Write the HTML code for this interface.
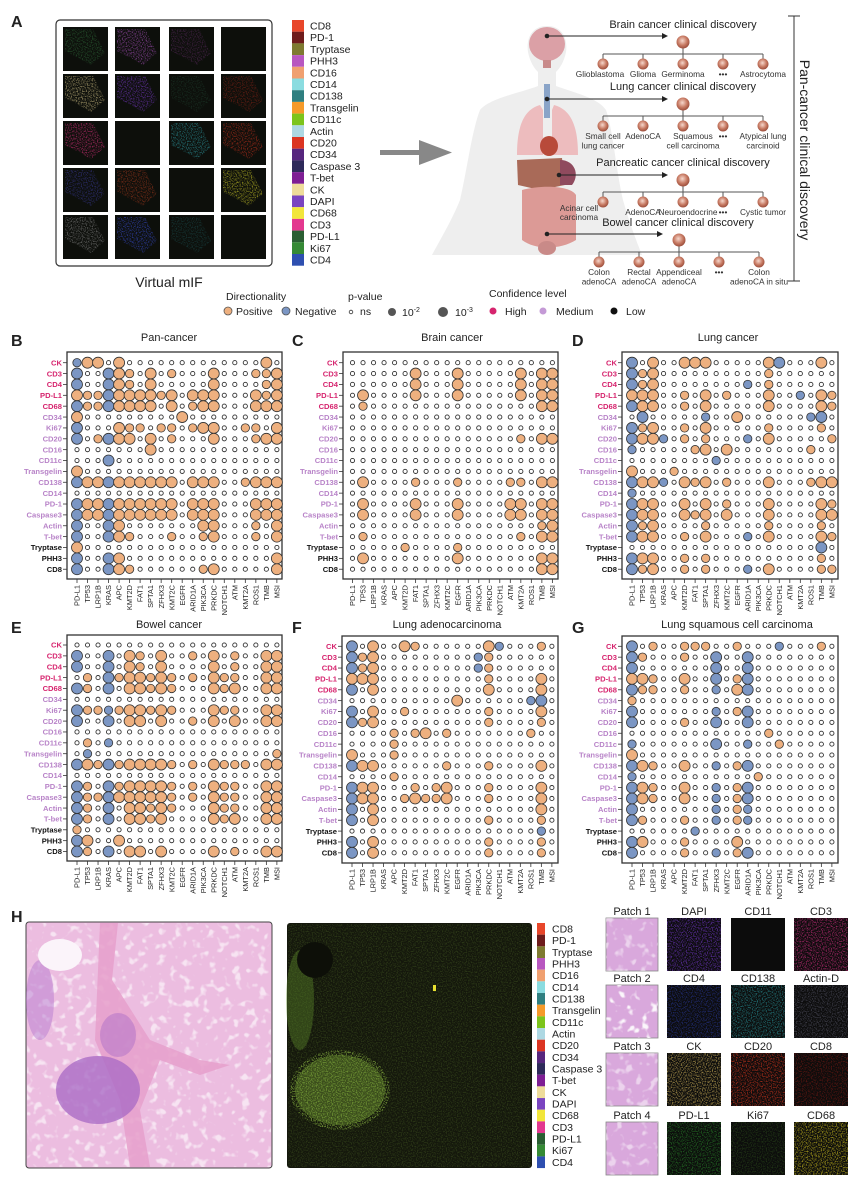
<!DOCTYPE html>
<html><head><meta charset="utf-8"><style>
html,body{margin:0;padding:0;background:#fff;}
svg{display:block;font-family:"Liberation Sans",Arial,sans-serif;}
</style></head><body>
<svg id="s" width="857" height="1188" viewBox="0 0 857 1188" xmlns="http://www.w3.org/2000/svg">
<defs>
<filter id="spk" x="0" y="0" width="1" height="1">
<feTurbulence type="fractalNoise" baseFrequency="0.8" numOctaves="1" seed="3" result="t"/>
<feColorMatrix in="t" type="matrix" values="0 0 0 0 0  0 0 0 0 0  0 0 0 0 0  0 0 0 4 -1.8" result="a"/>
<feComposite in="SourceGraphic" in2="a" operator="in"/>
</filter>
<filter id="wsp" x="0" y="0" width="1" height="1">
<feTurbulence type="fractalNoise" baseFrequency="0.12" numOctaves="2" seed="7" result="t"/>
<feColorMatrix in="t" type="matrix" values="0 0 0 0 1  0 0 0 0 1  0 0 0 0 1  0 0 0 6 -3.4"/>
</filter>
<radialGradient id="nd" cx="0.45" cy="0.4" r="0.6"><stop offset="0" stop-color="#f6d7cc"/><stop offset="0.6" stop-color="#c77a63"/><stop offset="1" stop-color="#9c4e3c"/></radialGradient>
</defs>
<g id="g"></g>
</svg>
<script>
var out=[];
function a(s){out.push(s);}
function T(x,y,t,o){o=o||{};a('<text x="'+x+'" y="'+y+'" font-size="'+(o.fs||11)+'"'+(o.fw?' font-weight="'+o.fw+'"':'')+' fill="'+(o.c||'#222')+'"'+(o.an?' text-anchor="'+o.an+'"':'')+(o.tr?' transform="'+o.tr+'"':'')+'>'+t+'</text>');}
// ---------- Panel A ----------
T(11,27,'A',{fs:16,fw:'bold'});
a('<rect x="56" y="20" width="216" height="246" rx="4" fill="#fff" stroke="#333" stroke-width="1.2"/>');
var tx=[63,115,169,221], ty=[27,74,121,168,215];
var tc=[['#2f6b3a','#b254c8','#5a2a5e',null],['#d8c78a','#7d3ad0','#1d3a2a','#8a2418'],['#e0307f',null,'#2fa0a8','#c8321e'],['#3a3a9a','#a83a1e',null,'#d8d42a'],['#8a8a8a','#3a4ed8','#1a4a4a',null]];
for(var r=0;r<5;r++)for(var c=0;c<4;c++){var x=tx[c],y=ty[r];a('<rect x="'+x+'" y="'+y+'" width="45" height="44" fill="#0d0f0b"/>');var col=tc[r][c];if(col){a('<path d="M'+(x+2)+' '+(y+2)+' L'+(x+30)+' '+(y+2)+' L'+(x+42)+' '+(y+26)+' L'+(x+28)+' '+(y+38)+' L'+(x+14)+' '+(y+30)+' L'+(x+2)+' '+(y+24)+'Z" fill="'+col+'" opacity="0.55" filter="url(#spk)"/>');}}
var lg=[['CD8','#e8462a'],['PD-1','#6e1c1c'],['Tryptase','#7e7a30'],['PHH3','#b857c0'],['CD16','#f0a070'],['CD14','#8adce0'],['CD138','#2f7f80'],['Transgelin','#f59a2a'],['CD11c','#7cc41c'],['Actin','#add8e3'],['CD20','#dc3522'],['CD34','#57267e'],['Caspase 3','#2e2a5a'],['T-bet','#7e1e94'],['CK','#eedc9a'],['DAPI','#7a44c0'],['CD68','#f2e63a'],['CD3','#e3388f'],['PD-L1','#2a5e32'],['Ki67','#358a35'],['CD4','#2e4fb0']];
for(var i=0;i<21;i++){var y=20+i*11.7;a('<rect x="292" y="'+y+'" width="12" height="11.7" fill="'+lg[i][1]+'"/>');T(310,y+9.5,lg[i][0],{fs:10.5});}
T(169,287,'Virtual mIF',{fs:14,an:'middle'});
a('<rect x="380" y="150" width="40" height="5" fill="#888"/><path d="M419 140 L452 152.5 L419 165Z" fill="#888"/>');
T(226,300,'Directionality',{fs:10.5});
a('<circle cx="228" cy="311" r="4" fill="#eeb07f" stroke="#555" stroke-width="0.8"/>');T(236,315,'Positive',{fs:10.5});
a('<circle cx="286" cy="311" r="4" fill="#7b96c4" stroke="#555" stroke-width="0.8"/>');T(295,315,'Negative',{fs:10.5});
T(348,300,'p-value',{fs:10.5});
a('<circle cx="351" cy="312" r="1.8" fill="none" stroke="#333" stroke-width="0.8"/>');T(360,315,'ns',{fs:10.5});
a('<circle cx="392" cy="312" r="4" fill="#555"/>');T(402,316,'10<tspan font-size="7" dy="-4">-2</tspan>',{fs:10.5});
a('<circle cx="443" cy="312" r="5" fill="#555"/>');T(455,316,'10<tspan font-size="7" dy="-4">-3</tspan>',{fs:10.5});
T(489,297,'Confidence level',{fs:10.5});
a('<circle cx="493" cy="311" r="3.5" fill="#d6246e"/>');T(505,315,'High',{fs:10.5});
a('<circle cx="543" cy="311" r="3.5" fill="#c49ad6"/>');T(556,315,'Medium',{fs:10.5});
a('<circle cx="614" cy="311" r="3.5" fill="#111"/>');T(626,315,'Low',{fs:10.5});
// body silhouette
a('<path d="M547 26 C562 26 568 38 566 52 C564 62 560 68 556 72 L556 86 C575 93 598 98 606 110 C613 130 616 170 623 200 C630 225 638 245 642 255 L432 255 C440 240 452 220 460 200 C467 170 472 130 480 110 C490 98 520 93 538 86 L538 72 C534 68 530 62 528 52 C526 38 532 26 547 26Z" fill="#eeeeee"/>');
a('<ellipse cx="547" cy="44" rx="18" ry="17" fill="#dba0a6"/><rect x="543" y="60" width="8" height="8" fill="#c88a8a"/>');
a('<rect x="544" y="84" width="6" height="34" fill="#8aa4c8"/>');
a('<path d="M540 105 C522 110 517 130 517 155 L543 155 L543 110Z M554 105 C573 110 578 130 578 155 L552 155 L552 110Z" fill="#edbcbe"/>');
a('<ellipse cx="549" cy="146" rx="9" ry="10" fill="#b84a3a"/>');
a('<path d="M517 160 L562 158 L565 185 L540 190 L518 185Z" fill="#a96a58"/><path d="M560 160 C575 160 580 175 572 185 L560 185Z" fill="#8f4a5e"/>');
a('<path d="M522 190 C540 185 570 185 576 195 L576 240 C560 250 535 250 522 240Z" fill="#dc9a96"/>');
a('<ellipse cx="547" cy="248" rx="9" ry="7" fill="#c98a88"/>');
function tree(cy,title,tcx,rootx,x0,labels,arrFrom,arrTo){
 T(tcx,cy,title,{fs:11,an:'middle'});
 var ry=cy+14,ly=cy+26,chy=cy+36;
 a('<line x1="'+rootx+'" y1="'+ry+'" x2="'+rootx+'" y2="'+ly+'" stroke="#555"/>');
 a('<line x1="'+x0+'" y1="'+ly+'" x2="'+(x0+160)+'" y2="'+ly+'" stroke="#555"/>');
 a('<circle cx="'+rootx+'" cy="'+ry+'" r="6.5" fill="url(#nd)"/>');
 for(var i=0;i<5;i++){var x=x0+i*40;a('<line x1="'+x+'" y1="'+ly+'" x2="'+x+'" y2="'+chy+'" stroke="#555"/>');a('<circle cx="'+x+'" cy="'+chy+'" r="5.5" fill="url(#nd)"/>');
  var L=labels[i];for(var k=0;k<L.length;k++)T(x+(L[k][1]||0),chy+13+k*9.5,L[k][0],{fs:8.3,an:'middle',c:'#333'});}
 a('<circle cx="'+arrFrom[0]+'" cy="'+arrFrom[1]+'" r="2.3" fill="#222"/><line x1="'+arrFrom[0]+'" y1="'+arrFrom[1]+'" x2="'+(arrTo-4)+'" y2="'+arrFrom[1]+'" stroke="#222" stroke-width="0.9"/><path d="M'+arrTo+' '+arrFrom[1]+' l-6 -3 v6z" fill="#222"/>');
}
tree(28,'Brain cancer clinical discovery',683,683,603,[[['Glioblastoma',-3]],[['Glioma']],[['Germinoma']],[['•••']],[['Astrocytoma']]],[547,36],668);
tree(90,'Lung cancer clinical discovery',683,683,603,[[['Small cell'],['lung cancer']],[['AdenoCA']],[['Squamous',10],['cell carcinoma',10]],[['•••']],[['Atypical lung'],['carcinoid']]],[547,99],668);
tree(166,'Pancreatic cancer clinical discovery',683,683,603,[[['',0]],[['AdenoCA']],[['Neuroendocrine',5]],[['•••']],[['Cystic tumor']]],[559,175],668);
T(579,211,'Acinar cell',{fs:8.3,an:'middle',c:'#333'});T(579,220,'carcinoma',{fs:8.3,an:'middle',c:'#333'});
tree(226,'Bowel cancer clinical discovery',678,679,599,[[['Colon'],['adenoCA']],[['Rectal'],['adenoCA']],[['Appendiceal'],['adenoCA']],[['•••']],[['Colon'],['adenoCA in situ']]],[547,234],663);
a('<line x1="794" y1="16" x2="794" y2="281" stroke="#333"/><line x1="788" y1="16" x2="800" y2="16" stroke="#333"/><line x1="788" y1="281" x2="800" y2="281" stroke="#333"/>');
T(800,150,'Pan-cancer clinical discovery',{fs:14,an:'middle',tr:'rotate(90 800 150)'});
// ---------- dot plots ----------
var rows=['CK','CD3','CD4','PD-L1','CD68','CD34','Ki67','CD20','CD16','CD11c','Transgelin','CD138','CD14','PD-1','Caspase3','Actin','T-bet','Tryptase','PHH3','CD8'];
var cols=['PD-L1','TP53','LRP1B','KRAS','APC','KMT2D','FAT1','SPTA1','ZFHX3','KMT2C','EGFR','ARID1A','PIK3CA','PRKDC','NOTCH1','ATM','KMT2A','ROS1','TMB','MSI'];
function rc(i){return i<5?'#d6246e':(i<17?'#b883c8':'#111');}
function plot(L,lx,title,tcx,ty,bx,by,bw,bh,cx0,ry0,data){
 T(lx,ty+5,L,{fs:16,fw:'bold'});
 T(tcx,ty,title,{fs:11,an:'middle'});
 a('<rect x="'+bx+'" y="'+by+'" width="'+bw+'" height="'+bh+'" fill="#fff" stroke="#333" stroke-width="1.3"/>');
 var dx=10.52,dy=10.87;
 for(var r=0;r<20;r++){var y=ry0+r*dy;a('<line x1="'+(bx-4)+'" y1="'+y+'" x2="'+bx+'" y2="'+y+'" stroke="#333" stroke-width="0.8"/>');T(bx-5,y+2.7,rows[r],{fs:7.6,fw:'bold',an:'end',c:rc(r)});
  var s=(data[r]||'')+'....................';
  for(var c=0;c<20;c++){var x=cx0+c*dx,ch=s[c];
   if(ch=='.')a('<circle cx="'+x+'" cy="'+y+'" r="2.1" fill="#fff" stroke="#333" stroke-width="0.9"/>');
   else{var big=(ch=='P'||ch=='N');var neg=(ch=='N'||ch=='n');a('<circle cx="'+x+'" cy="'+y+'" r="'+(big?5.5:4.2)+'" fill="'+(neg?'#7b96c4':'#eeb07f')+'" stroke="#333" stroke-width="0.8"/>');}}}
 for(var c=0;c<20;c++){var x=cx0+c*dx,yb=by+bh;a('<line x1="'+x+'" y1="'+yb+'" x2="'+x+'" y2="'+(yb+4)+'" stroke="#333" stroke-width="0.8"/>');T(x+2.6,yb+6,cols[c],{fs:7.4,an:'end',tr:'rotate(-90 '+(x+2.6)+' '+(yb+6)+')'});}
}
var B=["nPP.P.............P.","N..NPp.P.p...P...ppP","N..NPp.P.....P....pP","PppNPPPPpP.PPP...PpP","NppNPPPP.P.pPP...PPP","P.........P.........","N...Ppp.pp.pPP..pp.P","N.pNPP.P.p...P...pPP",".......P............","...N................","P...................","NPPNPPPPPP.PPP..pPPP","....................","NPPNPPPPPP.PPP...PPP","NPPNPPPPPP.PPP...PPP","N..NP.......PP...p.P","N..NPp...p..pP...p.P","P...................","N..NP..............P","N..NPp......pP.....P"];
var C=["","......P...P.....P.PP","......P...P.....P.PP",".P....P...P.....P.PP",".p................PP","","","................p.PP","","","",".P....p...p....pp.PP","",".P....P...P....PP.PP",".P....P...P....PP.PP","..................pP",".p..............p.PP",".....p....p.........",".P........P.......PP","..................PP"];
var D=["N.P..PPP.....PN...P.","NpP..........p......","NpP........n.p......","PPP..p.P.p...P..n.Pp","NPP..p.P.....P....Pp",".N.....n..P......nN.","NpP..p.P.....p....p.","NPPn.p.p...n.P.....p","n.....pP.P.......p..","........n...........","P...p...............","NPPn.PpP.p...P...pPP","n...................","NPP..P.P.p...P....Pp","NPP..PpP.P...P....PP","NpP....p.....p....p.","NPP..p.P...n.P....Pp","..................N.","NPP..p.p..........p.","NpP..p.p...n.P....pp"];
var E=["","N..N.Pp.P..p.P.p..PP","N..N.Pp.P....P.p..PP",".p.NpPPpPp.p.Ppp..PP","Np.N.PPpPp...PpP..PP","","NppnpPPpPp...Ppp..PP","N..N.PP.P..p.P.P..PP","",".p.n................",".n.................p","NPpNpPPPPp.p.Pppp.PP","","Np.NpPPPPp.p.Ppp..PP","NppNPPPPPp.p.Ppp..PP","Np.N.PPpPp...Ppp..PP","Np.N.PPpP....PpP..PP","p...................","NP..P...............","Np.N.PP.P....P.p..PP"];
var F=["N.P..Pp......Pn...p.","NpP.........np......","NpP.........np......","PPP..........p....P.","N.P..........P....P.","..........P......nN.","N.P..p.......p....P.","NpP..........p....p.","....p.pP.p.......p..","....p...............","P...p...............","NPP......p...p....P.","....p...............","NPP...p.pP...p....P.","NPP..pPppP...p....P.","N.P...............P.","N.P..........p....p.","..................n.","N.P..........p....p.","N.P..........p....p."];
var G=["N.p..ppp..p...n...p.","Np...p..N..N........","N.......N..N........","PPp..P..N.pN........","Npp..p..n.PN........","p...................","N.......n.pN........","N....p..N..N........",".............p......","n.......N..n..p.....","P...................","NPp..P..n.pN........","n...........p.......","NPp..P..n.pN........","NPp..P..n.pN........","N.......n.pn........","Np...p..n.pn........","......n.............","NP...p....P.........","N....p..n.pN........"];
plot('B',11,'Pan-cancer',169,341,67,352,215,227,77,362.7,B);
plot('C',292,'Brain cancer',452,341,343,352,215,227,352.5,362.7,C);
plot('D',572,'Lung cancer',728,341,622,352,216,227,632,362.7,D);
plot('E',11,'Bowel cancer',169,628,67,635,215,226,77,645,E);
plot('F',292,'Lung adenocarcinoma',447,628,342,636,216,227,352,646.3,F);
plot('G',572,'Lung squamous cell carcinoma',737,628,622,636,216,227,632,646.3,G);
// ---------- Panel H ----------
T(11,922,'H',{fs:16,fw:'bold'});
a('<rect x="26" y="922" width="246" height="246" rx="3" fill="#ecbde0" stroke="#444" stroke-width="1"/>');
a('<rect x="27" y="923" width="244" height="244" fill="#fff" filter="url(#wsp)" opacity="0.6"/>');
a('<path d="M100 923 L118 923 L112 980 L150 1040 L200 1060 L230 1065 L200 1075 L160 1060 L140 1110 L150 1167 L130 1167 L120 1100 L95 1040Z" fill="#e6a0cb" opacity="0.85"/>');
a('<ellipse cx="98" cy="1090" rx="42" ry="34" fill="#a768c4" opacity="0.75"/>');
a('<ellipse cx="118" cy="1035" rx="18" ry="22" fill="#b778c8" opacity="0.6"/>');
a('<ellipse cx="40" cy="1000" rx="14" ry="40" fill="#b67cd0" opacity="0.5"/>');
a('<ellipse cx="60" cy="955" rx="22" ry="16" fill="#fbf4fa"/>');
a('<rect x="287" y="923" width="245" height="245" rx="3" fill="#14170c"/>');
a('<rect x="288" y="924" width="243" height="243" fill="#55702a" opacity="0.35" filter="url(#spk)"/>');
a('<ellipse cx="340" cy="1090" rx="50" ry="40" fill="#7aa03a" opacity="0.8" filter="url(#spk)"/>');
a('<ellipse cx="340" cy="1090" rx="45" ry="35" fill="#6a9030" opacity="0.45"/>');
a('<ellipse cx="300" cy="1000" rx="14" ry="50" fill="#5c8a2a" opacity="0.4"/>');
a('<ellipse cx="315" cy="960" rx="18" ry="18" fill="#0d0f08"/>');
a('<rect x="433" y="985" width="3" height="6" fill="#e8e030"/>');
for(var i=0;i<21;i++){var y=923+i*11.67;a('<rect x="537" y="'+y+'" width="8" height="11.67" fill="'+lg[i][1]+'"/>');T(552,y+9.5,lg[i][0],{fs:10.5});}
var px=[606,667,731,794],py=[918,985,1053,1122];
var pl=[['Patch 1','DAPI','CD11','CD3'],['Patch 2','CD4','CD138','Actin-D'],['Patch 3','CK','CD20','CD8'],['Patch 4','PD-L1','Ki67','CD68']];
var pcol=[[null,'#7a3ad8',null,'#e0308a'],[null,'#2a3aa0','#2a9aa0','#556'],[null,'#e0c060','#e83a20','#7a1a14'],[null,'#2a8a2a','#2a4a1a','#e0d020']];
for(var r=0;r<4;r++)for(var c=0;c<4;c++){var x=px[c],y=py[r],w=(c==0?52:54);T(x+w/2,y-3,pl[r][c],{fs:11,an:'middle'});
 if(c==0){a('<rect x="'+x+'" y="'+y+'" width="'+w+'" height="53" fill="#d9a8dc" stroke="#888" stroke-width="0.8"/>');a('<rect x="'+x+'" y="'+y+'" width="'+w+'" height="53" fill="#fff" filter="url(#wsp)" opacity="'+(r==1?0.9:0.5)+'"/>');}
 else{a('<rect x="'+x+'" y="'+y+'" width="'+w+'" height="53" fill="#0c0c0c"/>');var col=pcol[r][c];if(col)a('<rect x="'+x+'" y="'+y+'" width="'+w+'" height="53" fill="'+col+'" filter="url(#spk)" opacity="0.6"/>');}}
document.getElementById('g').innerHTML=out.join('');
</script>
</body></html>
